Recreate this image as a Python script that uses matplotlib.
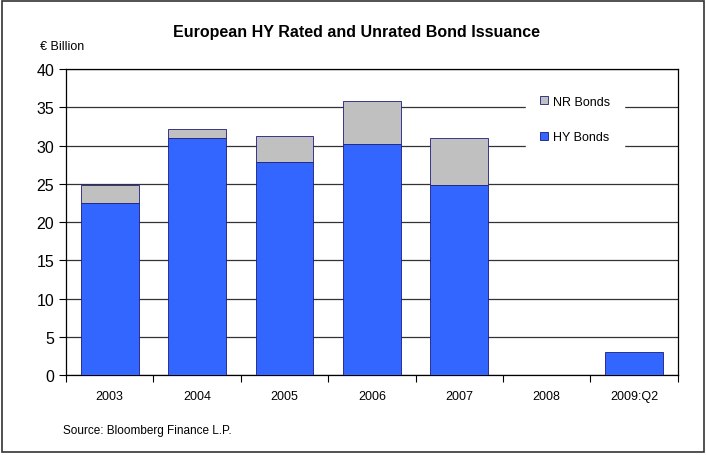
import numpy as np
import matplotlib
matplotlib.use("Agg")
import matplotlib.pyplot as plt
from matplotlib.patches import Rectangle

plt.rcParams["font.family"] = ["Liberation Sans", "DejaVu Sans"]

YEARS = ["2003", "2004", "2005", "2006", "2007", "2008", "2009:Q2"]
HY_BONDS = [22.5, 31.0, 27.8, 30.2, 24.8, 0.0, 3.0]
NR_BONDS = [2.3, 1.2, 3.5, 5.6, 6.2, 0.0, 0.0]

BLUE = "#3366FF"
GRAY = "#C0C0C0"
EDGE = "#1A1A80"

fig = plt.figure(figsize=(7.06, 4.56), dpi=100)
ax = fig.add_axes([0.0935, 0.1754, 0.8665, 0.6711])

x = np.arange(len(YEARS))
hy = np.array(HY_BONDS)
nr = np.array(NR_BONDS)
mask = hy > 0
ax.bar(x[mask], hy[mask], width=0.66, color=BLUE, edgecolor=EDGE,
       linewidth=0.6, label="HY Bonds", zorder=3)
nmask = nr > 0
ax.bar(x[nmask], nr[nmask], bottom=hy[nmask], width=0.66, color=GRAY,
       edgecolor=EDGE, linewidth=0.6, label="NR Bonds", zorder=3)

ax.set_xlim(-0.5, len(YEARS) - 0.5)
ax.set_ylim(0, 40)
ax.set_yticks(range(0, 41, 5))
ax.tick_params(axis="y", labelsize=11.5, length=5, direction="out", width=0.8)
ax.set_xticks(x)
ax.set_xticklabels(YEARS, fontsize=9)
ax.tick_params(axis="x", which="major", length=0, pad=11)
ax.set_xticks(np.arange(-0.5, len(YEARS)), minor=True)
ax.tick_params(axis="x", which="minor", length=5, width=0.8, direction="out")
ax.grid(True, axis="y", color="#333333", linewidth=0.9, zorder=0)
for s in ax.spines.values():
    s.set_color("black")
    s.set_linewidth(0.9)

h, l = ax.get_legend_handles_labels()
leg = ax.legend(h[::-1], l[::-1], loc="center", bbox_to_anchor=(0.832, 0.835),
                frameon=True, fancybox=False, edgecolor="white",
                facecolor="white", framealpha=1, fontsize=9,
                handlelength=0.6, handleheight=0.6, handletextpad=0.4,
                labelspacing=1.9, borderpad=1.1)
leg.set_zorder(5)

fig.text(0.505, 0.928, "European HY Rated and Unrated Bond Issuance",
         ha="center", va="center", fontsize=11.5, fontweight="bold")
fig.text(0.057, 0.898, "€ Billion", ha="left", va="center", fontsize=9)
fig.text(0.089, 0.055, "Source: Bloomberg Finance L.P.", ha="left",
         va="center", fontsize=8.5)

fig.patches.append(Rectangle((0.003, 0.006), 0.994, 0.99,
                             transform=fig.transFigure, fill=False,
                             edgecolor="#333333", linewidth=1.2))

fig.savefig("out.png", dpi=100)
